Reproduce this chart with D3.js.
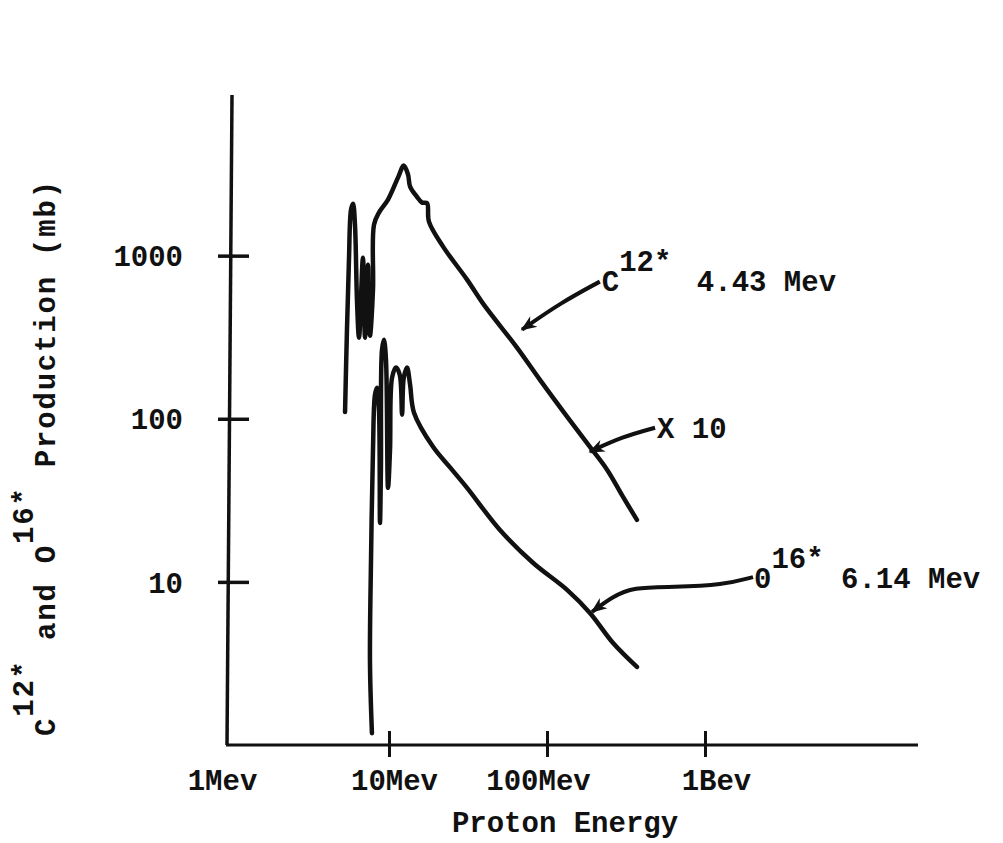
<!DOCTYPE html>
<html>
<head>
<meta charset="utf-8" />
<style>

body {
    margin: 0;
    background-color: #FFF;
}

#chart text {
    font-family: "Liberation Mono", "Courier New", monospace;
    font-weight: bold;
    font-size: 29px;
    fill: #111;
}

</style>
<title>C12 and O16 production</title>
</head>

<body>
<div id="chart"></div>

<script src="https://d3js.org/d3.v7.min.js"></script>
<script>

var width = 1003, height = 843;

// axis ticks
var xTicks = [1, 10, 100, 1000];
var xTickLabels = ["1Mev", "10Mev", "100Mev", "1Bev"];
var yTicks = [10, 100, 1000];
var yTickLabels = ["10", "100", "1000"];

// C12* 4.43 Mev line (values x 10), energy in Mev, production in mb
var c12Energy = [5.27, 5.42, 5.58, 5.75, 5.92, 6.09, 6.27, 6.46, 6.84, 7.05, 7.36, 7.58, 7.92, 8.04,
    8.64, 9.86, 11.4, 12.4, 13.2, 13.6, 15.0, 16.2, 17.4, 17.9, 22.0, 31.2, 39.4, 64.6, 90.3,
    134, 187, 240, 303, 371];
var c12Mb = [110, 352, 945, 1915, 2084, 1550, 537, 314, 972, 314, 881, 323, 618, 1550,
    1836, 2206, 3010, 3565, 3140, 2650, 2300, 2114, 2100, 1617, 1136, 713, 508, 273, 173,
    103, 67.3, 48.7, 33.2, 24.0];

// O16* 6.14 Mev line
var o16Energy = [7.8, 7.58, 7.69, 7.92, 8.15, 8.40, 8.64, 8.77, 8.89, 9.03, 9.29, 9.57, 9.86,
    10.15, 10.45, 11.07, 11.7, 12.1, 12.4, 13.0, 13.6, 14.4, 19.0, 24.5, 31.2, 50.4, 81.5, 134,
    187, 262, 371];
var o16Mb = [1.18, 3.19, 13.1, 64.5, 140, 155, 114, 23.0, 48.7, 265, 305, 230, 37.7,
    64.5, 178, 206, 186, 106, 178, 206, 162, 109, 67.3, 50.0, 37.7, 20.8, 13.1, 8.93,
    6.45, 4.22, 3.01];

// annotation arrows: tip and tail in data units
var noteTipEnergy = [69.5, 187, 193];
var noteTipMb = [352, 62.8, 6.55];
var noteTailEnergy = [216, 483, 2014];
var noteTailMb = [693, 88.1, 10.7];

var svg = d3.select("#chart").append("svg")
    .attr("width", width)
    .attr("height", height);

var defs = svg.append("defs");
defs.append("marker")
    .attr("id", "head")
    .attr("viewBox", "0 0 10 10")
    .attr("refX", 9)
    .attr("refY", 5)
    .attr("markerUnits", "userSpaceOnUse")
    .attr("markerWidth", 20)
    .attr("markerHeight", 16)
    .attr("orient", "auto")
  .append("path")
    .attr("d", "M0,1 L10,5 L0,9 L3,5 Z")
    .attr("fill", "#111");

var x = d3.scaleLog().domain([1, 22300]).range([231, 918]);
var y = d3.scaleLog().domain([1, 9000]).range([745, 100]);

// axes lines
svg.append("line")
    .attr("x1", x(1) - 5).attr("y1", y(1))
    .attr("x2", x.range()[1]).attr("y2", y(1))
    .attr("stroke", "#111").attr("stroke-width", 3);
svg.append("line")
    .attr("x1", x(1) - 4).attr("y1", y(1))
    .attr("x2", x(1) + 1).attr("y2", y.range()[1] - 5)
    .attr("stroke", "#111").attr("stroke-width", 3.5);

// hand typed labels don't sit exactly on their ticks
var xLabelShift = [-9, 5, -9, 11];

var xAxis = svg.append("g")
    .attr("transform", "translate(0," + y(1) + ")")
    .call(d3.axisBottom(x).tickValues(xTicks)
        .tickFormat(function(d, i) { return xTickLabels[i]; }));
xAxis.select(".domain").remove();
xAxis.selectAll(".tick line")
    .attr("y1", -14).attr("y2", 12)
    .attr("stroke", "#111").attr("stroke-width", 3);
xAxis.selectAll(".tick text")
    .attr("y", 45).attr("dy", 0)
    .attr("x", function(d, i) { return xLabelShift[i]; });
// first tick sits on the y axis, no mark
xAxis.selectAll(".tick").filter(function(d) { return d === 1; }).select("line").remove();

var yAxis = svg.append("g")
    .attr("transform", "translate(" + (x(1) - 3) + ",0)")
    .call(d3.axisLeft(y).tickValues(yTicks)
        .tickFormat(function(d, i) { return yTickLabels[i]; }));
yAxis.select(".domain").remove();
yAxis.selectAll(".tick line")
    .attr("x1", -10).attr("x2", 21)
    .attr("stroke", "#111").attr("stroke-width", 3.5);
yAxis.selectAll(".tick text")
    .attr("x", -45).attr("dy", "0.35em");

// axis titles
svg.append("text")
    .attr("x", 565).attr("y", 832)
    .attr("text-anchor", "middle")
    .text("Proton Energy");

var yTitle = svg.append("text")
    .attr("transform", "translate(55,736) rotate(-90)")
    .style("letter-spacing", "1.8px");
yTitle.append("tspan").text("C");
yTitle.append("tspan").attr("dy", -22).text("12*");
yTitle.append("tspan").attr("dy", 22).text(" and O");
yTitle.append("tspan").attr("dy", -22).text("16*");
yTitle.append("tspan").attr("dy", 22).text(" Production (mb)");

// curves
var line = d3.line()
    .x(function(d) { return x(d[0]); })
    .y(function(d) { return y(d[1]); })
    .curve(d3.curveCatmullRom.alpha(0.5));

svg.append("path")
    .datum(d3.zip(c12Energy, c12Mb))
    .attr("d", line)
    .attr("fill", "none")
    .attr("stroke", "#111")
    .attr("stroke-width", 4.5)
    .attr("stroke-linejoin", "round")
    .attr("stroke-linecap", "round");

svg.append("path")
    .datum(d3.zip(o16Energy, o16Mb))
    .attr("d", line)
    .attr("fill", "none")
    .attr("stroke", "#111")
    .attr("stroke-width", 4.5)
    .attr("stroke-linejoin", "round")
    .attr("stroke-linecap", "round");

// arrows
var arrow = d3.line().curve(d3.curveBasis);
noteTipEnergy.forEach(function(e, i) {
    var x0 = x(noteTailEnergy[i]), y0 = y(noteTailMb[i]);
    var x1 = x(e), y1 = y(noteTipMb[i]);
    var pts;
    if (i === 2) {
        // the wavy one
        pts = [[x0, y0], [x0 - 30, y0 + 8], [x0 - 80, y0 + 10], [x0 - 120, y0 + 10], [x1 + 20, y1 - 15], [x1, y1]];
    } else {
        pts = [[x0, y0], [(x0 + x1) / 2, (y0 + y1) / 2 - 3], [x1, y1]];
    }
    svg.append("path")
        .attr("d", arrow(pts))
        .attr("fill", "none")
        .attr("stroke", "#111")
        .attr("stroke-width", 4)
        .attr("marker-end", "url(#head)");
});

// annotation labels
var n1 = svg.append("text")
    .attr("x", x(noteTailEnergy[0]) + 2).attr("y", y(noteTailMb[0]) + 9);
n1.append("tspan").text("C");
n1.append("tspan").attr("dy", -20).text("12*");
n1.append("tspan").attr("dy", 20).attr("dx", 8).text(" 4.43 Mev");

svg.append("text")
    .attr("x", x(noteTailEnergy[1]) + 2).attr("y", y(noteTailMb[1]) + 10)
    .text("X 10");

var n3 = svg.append("text")
    .attr("x", x(noteTailEnergy[2]) + 1).attr("y", y(noteTailMb[2]) + 11);
n3.append("tspan").text("0");
n3.append("tspan").attr("dy", -20).text("16*");
n3.append("tspan").attr("dy", 20).text(" 6.14 Mev");

</script>
</body>
</html>
